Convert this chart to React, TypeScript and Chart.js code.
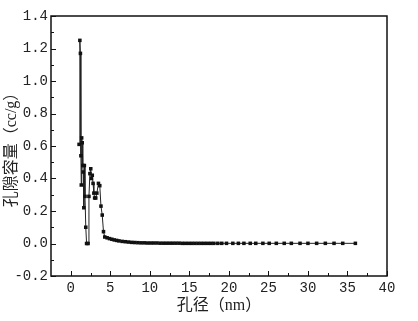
import React, { useEffect, useRef } from "react";
import { Chart, registerables } from "chart.js";

Chart.register(...registerables);

const poreSize = [
  1.05, 1.15, 1.22, 1.28, 1.33, 1.38, 1.45, 1.52, 1.58, 1.65, 1.72, 1.8, 1.9, 2.0, 2.19,
  2.3, 2.42, 2.53, 2.62, 2.72, 2.82, 2.92, 3.02, 3.16, 3.3, 3.5, 3.67, 3.82, 3.98, 4.14, 4.3,
  4.6, 4.9, 5.2, 5.5, 5.8, 6.1, 6.5, 6.9, 7.3, 7.7, 8.1, 8.5, 8.9, 9.3, 9.7,
  10.1, 10.5, 10.9, 11.3, 11.7, 12.1, 12.5, 12.9, 13.3, 13.7, 14.1, 14.5, 14.9, 15.3,
  15.7, 16.1, 16.5, 16.9, 17.3, 17.7, 18.1, 18.6, 19.1, 19.7, 20.5, 21.2, 21.9, 22.7,
  23.4, 24.3, 25.1, 26.0, 27.0, 27.9, 29.0, 30.0, 31.1, 32.2, 33.3, 34.4, 36.0,
];

const poreVolume = [
  0.61, 1.25, 1.17, 0.54, 0.36, 0.65, 0.62, 0.48, 0.44, 0.22, 0.48, 0.29, 0.1, 0.0, 0.0,
  0.29, 0.43, 0.46, 0.4, 0.42, 0.37, 0.31, 0.28, 0.28, 0.31, 0.37, 0.356, 0.23, 0.175, 0.073, 0.04,
  0.035, 0.03, 0.026, 0.022, 0.019, 0.016, 0.013, 0.011, 0.009, 0.007, 0.006, 0.005, 0.004, 0.004, 0.003,
  0.003, 0.003, 0.003, 0.002, 0.002, 0.002, 0.002, 0.002, 0.002, 0.002, 0.001, 0.001, 0.001, 0.001,
  0.001, 0.001, 0.001, 0.001, 0.001, 0.001, 0.001, 0.001, 0.001, 0.001, 0.001, 0.001, 0.001, 0.001,
  0.001, 0.001, 0.001, 0.001, 0.001, 0.001, 0.001, 0.001, 0.001, 0.001, 0.001, 0.001, 0.001,
];

const xTicks = [0, 5, 10, 15, 20, 25, 30, 35, 40];
const yTicks = [-0.2, 0.0, 0.2, 0.4, 0.6, 0.8, 1.0, 1.2, 1.4];

const xTitle = "孔径（nm）";
const yTitle = "孔隙容量（cc/g）";

const tickFont = { family: "'Liberation Mono', 'Noto Sans CJK SC'", size: 14 };
const titleFont = { family: "'Liberation Serif', 'Noto Sans CJK SC'", size: 16 };
const textColor = "#222";

const framePlugin = {
  id: "frame",
  afterDraw(chart: any) {
    const { ctx, chartArea: a, scales } = chart;
    const x = scales.x;
    const y = scales.y;
    ctx.save();
    ctx.strokeStyle = "#111";
    ctx.lineWidth = 1;
    const drawX = (v: number, len: number) => {
      const px = Math.round(x.getPixelForValue(v)) + 0.5;
      ctx.beginPath();
      ctx.moveTo(px, a.bottom);
      ctx.lineTo(px, a.bottom - len);
      ctx.stroke();
    };
    const drawY = (v: number, len: number) => {
      const py = Math.round(y.getPixelForValue(v)) + 0.5;
      ctx.beginPath();
      ctx.moveTo(a.left, py);
      ctx.lineTo(a.left + len, py);
      ctx.stroke();
    };
    xTicks.forEach((v, i) => {
      drawX(v, 5);
      if (i < xTicks.length - 1) drawX((v + xTicks[i + 1]) / 2, 3);
    });
    yTicks.forEach((v, i) => {
      drawY(v, 5);
      if (i < yTicks.length - 1) drawY((v + yTicks[i + 1]) / 2, 3);
    });
    ctx.lineWidth = 1.5;
    ctx.strokeRect(a.left, a.top, a.right - a.left, a.bottom - a.top);
    ctx.restore();
  },
};

export default function App() {
  const ref = useRef<HTMLCanvasElement>(null);
  useEffect(() => {
    if (!ref.current) return;
    const chart = new Chart(ref.current, {
      type: "line",
      data: {
        datasets: [
          {
            data: poreSize.map((v, i) => ({ x: v, y: poreVolume[i] })),
            borderColor: "#222",
            borderWidth: 1,
            backgroundColor: "#111",
            pointStyle: "rect",
            pointRadius: 2.5,
            pointBorderWidth: 0,
            pointBackgroundColor: "#111",
            tension: 0,
          },
        ],
      },
      options: {
        responsive: false,
        animation: false,
        events: [],
        layout: { padding: { top: 16, right: 31, left: 0, bottom: 0 } },
        plugins: { legend: { display: false }, tooltip: { enabled: false } },
        scales: {
          x: {
            type: "linear",
            min: -2.5,
            max: 40,
            afterBuildTicks: (s: any) => {
              s.ticks = xTicks.map((v) => ({ value: v }));
            },
            afterFit: (s: any) => {
              s.height = 45;
            },
            grid: { display: false, drawTicks: false },
            border: { display: false },
            ticks: {
              font: tickFont,
              color: textColor,
              padding: 4,
              maxRotation: 0,
              autoSkip: false,
              callback: (v: any) => String(v),
            },
            title: {
              display: true,
              text: xTitle,
              font: titleFont,
              color: textColor,
              padding: { top: 0, bottom: 6 },
            },
          },
          y: {
            type: "linear",
            min: -0.2,
            max: 1.4,
            afterBuildTicks: (s: any) => {
              s.ticks = yTicks.map((v) => ({ value: v }));
            },
            afterFit: (s: any) => {
              s.width = 51;
            },
            grid: { display: false, drawTicks: false },
            border: { display: false },
            ticks: {
              font: tickFont,
              color: textColor,
              padding: 3,
              autoSkip: false,
              callback: (v: any) => Number(v).toFixed(1),
            },
            title: {
              display: true,
              text: yTitle,
              font: titleFont,
              color: textColor,
              padding: { top: 2, bottom: 0 },
            },
          },
        },
      },
      plugins: [framePlugin],
    });
    return () => chart.destroy();
  }, []);
  return (
    <div style={{ position: "absolute", left: 0, top: 0, width: 418, height: 321, background: "#fff" }}>
      <canvas ref={ref} width={418} height={321} />
    </div>
  );
}
